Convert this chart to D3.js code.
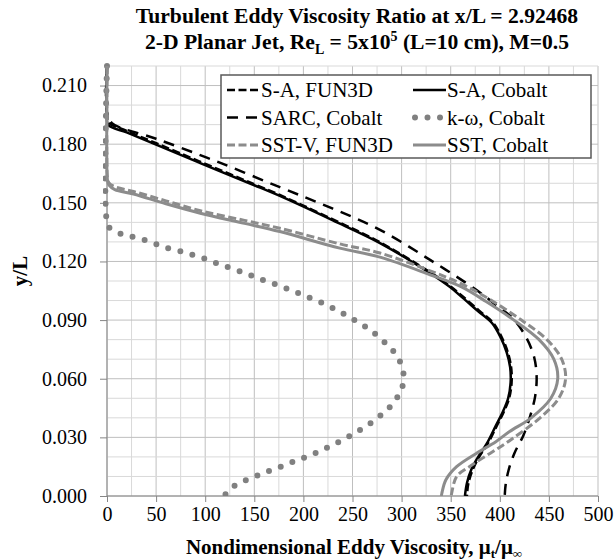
<!DOCTYPE html>
<html lang="en">
<head>
<meta charset="UTF-8">
<title>Turbulent Eddy Viscosity Ratio</title>
<script src="https://d3js.org/d3.v7.min.js"></script>
<style>
    body {
        margin: 0;
        background: #fff;
    }
    svg {
        display: block;
    }
    svg text {
        font-family: "Liberation Serif", "DejaVu Serif", serif;
    }
    .axis text {
        font-size: 20px;
        fill: #000;
    }
    .axis path, .axis line {
        stroke: #868686;
    }
    .title {
        font-weight: bold;
        font-size: 21.6px;
    }
    .axisTitle {
        font-weight: bold;
        font-size: 21px;
    }
    .legend text {
        font-size: 21px;
    }
</style>
</head>
<body>
<script>
// values, [eddy viscosity, y/L]
const saFun3D = [[0,0.22],[0,0.196],[1.5,0.1912],[20,0.1868],[50,0.1805],[95,0.171],[150,0.1595],[176,0.154],
    [230,0.1415],[278,0.1298],[329,0.1145],[349,0.1075],[362,0.1022],[379,0.0948],[393,0.0887],[402,0.0812],
    [408,0.0737],[411.5,0.066],[412,0.058],[409.5,0.050],[404,0.043],[397,0.036],[388,0.027],[379,0.020],
    [372.5,0.0135],[368,0.0065],[366.5,0]];
const saCobalt = [[0,0.22],[0,0.195],[1,0.190],[20,0.186],[50,0.1798],[95,0.1703],[150,0.159],[176,0.1535],
    [230,0.141],[278,0.1294],[329,0.114],[349,0.107],[362,0.1015],[378,0.0945],[392,0.0885],[401,0.081],
    [407,0.0735],[410.5,0.066],[411,0.058],[408.5,0.050],[403,0.043],[396,0.036],[387,0.027],[378,0.020],
    [371,0.0135],[366.5,0.0065],[364.5,0]];
const sarcCobalt = [[0,0.22],[0,0.196],[5,0.1908],[50,0.1828],[110,0.1715],[176,0.158],[230,0.147],[278,0.1362],
    [329,0.1208],[376,0.1055],[398,0.097],[414,0.0905],[427,0.081],[435,0.071],[437.5,0.061],[436,0.051],
    [431,0.041],[424,0.031],[415,0.022],[409,0.0133],[406,0.006],[405,0]];
const kwCobalt = [[0,0.22],[0,0.14],[3,0.137],[15,0.134],[27,0.1325],[40,0.1307],[52,0.1285],[64,0.1265],
    [77.6,0.1248],[89.5,0.123],[102,0.121],[114,0.1186],[126,0.1166],[139,0.1143],[151,0.112],[163,0.1097],
    [175,0.1077],[187,0.1053],[199,0.103],[211,0.1004],[223.5,0.0978],[234.6,0.0949],[246,0.0918],[257,0.0884],
    [268,0.085],[278,0.0807],[288,0.0761],[296,0.071],[301,0.065],[302,0.0585],[297.5,0.0522],[290,0.0466],
    [281,0.0423],[271,0.0382],[260,0.0345],[249,0.0312],[238,0.0282],[226,0.0252],[214,0.0224],[202,0.0199],
    [190,0.0176],[178,0.0152],[166,0.013],[154,0.0106],[142,0.0082],[130,0.0053],[121,0.001],[119,0]];
const sstvFun3D = [[0,0.22],[0,0.166],[0.5,0.1628],[2,0.1602],[8,0.1582],[27,0.1558],[60,0.151],[95,0.146],
    [140,0.141],[176,0.137],[237,0.129],[278,0.1243],[329,0.1152],[360,0.1088],[390,0.1005],[422,0.09],
    [448,0.08],[463,0.07],[467,0.06],[460,0.05],[441,0.04],[411,0.0287],[390,0.0218],[369,0.015],
    [356,0.0099],[351,0.0014],[350.5,0]];
const sstCobalt = [[0,0.22],[0,0.165],[0.5,0.1615],[2,0.159],[8,0.1568],[27,0.1545],[60,0.1495],[95,0.1447],
    [140,0.1395],[176,0.1353],[237,0.1268],[278,0.1222],[329,0.1132],[360,0.1072],[386,0.0995],[413,0.0905],
    [440,0.080],[455,0.070],[459,0.060],[452,0.050],[432,0.040],[410,0.033],[396,0.0278],[376,0.0218],
    [356,0.015],[345,0.0082],[341,0.0014],[340.5,0]];

const seriesNames = ["S-A, FUN3D", "S-A, Cobalt", "SARC, Cobalt", "k-\u03c9, Cobalt", "SST-V, FUN3D", "SST, Cobalt"];
const xTicks = [0, 50, 100, 150, 200, 250, 300, 350, 400, 450, 500];
const yTicks = [0, 0.03, 0.06, 0.09, 0.12, 0.15, 0.18, 0.21];

const width = 616;
const height = 560;
const margins = {top: 66, bottom: 64, left: 107, right: 18};

const svg = d3.select("body").append("svg")
    .attr("width", width)
    .attr("height", height)
    .attr("viewBox", `0 0 ${width} ${height}`);

const xScale = d3.scaleLinear().domain([0, 500]).range([margins.left, width - margins.right]);
const yScale = d3.scaleLinear().domain([0, 0.22]).range([height - margins.bottom, margins.top]);

//gridlines
const grid = svg.append("g").attr("class", "grid");
grid.selectAll(".vgrid")
    .data(d3.range(0, 501, 25))
    .enter().append("line")
    .attr("x1", d => xScale(d)).attr("x2", d => xScale(d))
    .attr("y1", yScale(0)).attr("y2", yScale(0.22))
    .attr("stroke", d => d % 50 === 0 ? "#bfbfbf" : "#d9d9d9")
    .attr("stroke-width", 1);
grid.selectAll(".hgrid")
    .data(d3.range(0, 23).map(i => i / 100))
    .enter().append("line")
    .attr("x1", xScale(0)).attr("x2", xScale(500))
    .attr("y1", d => yScale(d)).attr("y2", d => yScale(d))
    .attr("stroke", (d, i) => i % 3 === 0 ? "#bfbfbf" : "#d9d9d9")
    .attr("stroke-width", 1);

//axes
const xAxis = d3.axisBottom(xScale).tickValues(xTicks).tickSize(6).tickPadding(5).tickFormat(d3.format("d"));
const yAxis = d3.axisLeft(yScale).tickValues(yTicks).tickSize(7).tickPadding(13).tickFormat(d3.format(".3f"));

svg.append("g").attr("class", "axis")
    .attr("transform", `translate(0, ${yScale(0)})`)
    .call(xAxis)
    .attr("font-family", null).attr("font-size", null)
    .call(g => g.select(".domain").attr("d", `M${xScale(0)},0H${xScale(500)}`));

svg.append("g").attr("class", "axis")
    .attr("transform", `translate(${xScale(0)}, 0)`)
    .call(yAxis)
    .attr("font-family", null).attr("font-size", null)
    .call(g => g.select(".domain").attr("d", `M0,${yScale(0.22)}V${yScale(0)}`));

//clip lines to plot area
svg.append("clipPath").attr("id", "plotClip")
    .append("rect")
    .attr("x", xScale(0) - 4).attr("y", yScale(0.22) - 4)
    .attr("width", xScale(500) - xScale(0) + 4).attr("height", yScale(0) - yScale(0.22) + 4);

const lineGen = d3.line()
    .x(d => xScale(d[0]))
    .y(d => yScale(d[1]))
    .curve(d3.curveCatmullRom.alpha(0.5));

const styles = [
    {data: saFun3D, color: "#000", width: 2.5, dash: "8,3.5", cap: "butt"},
    {data: saCobalt, color: "#000", width: 2.5, dash: null, cap: "butt"},
    {data: sarcCobalt, color: "#000", width: 2.5, dash: "11,8", cap: "butt"},
    {data: kwCobalt, color: "#808080", width: 6, dash: "0,12.5", cap: "round"},
    {data: sstvFun3D, color: "#8c8c8c", width: 3, dash: "8,3.5", cap: "butt"},
    {data: sstCobalt, color: "#8c8c8c", width: 3, dash: null, cap: "butt"}
];

const lines = svg.append("g").attr("clip-path", "url(#plotClip)");
lines.selectAll("path")
    .data(styles)
    .enter()
    .append("path")
    .attr("d", d => lineGen(d.data))
    .attr("fill", "none")
    .attr("stroke", d => d.color)
    .attr("stroke-width", d => d.width)
    .attr("stroke-dasharray", d => d.dash)
    .attr("stroke-linecap", d => d.cap);

//legend
const legendBox = {x: 221, y: 75, w: 370, h: 83};
const legend = svg.append("g").attr("class", "legend");
legend.append("rect")
    .attr("x", legendBox.x).attr("y", legendBox.y)
    .attr("width", legendBox.w).attr("height", legendBox.h)
    .attr("fill", "#fff")
    .attr("stroke", "#595959")
    .attr("stroke-width", 1.5);

const items = legend.selectAll(".item")
    .data(styles.map((s, i) => Object.assign({name: seriesNames[i]}, s)))
    .enter().append("g")
    .attr("transform", (d, i) => `translate(${i % 2 === 0 ? 227 : 413}, ${90 + Math.floor(i / 2) * 27.5})`);

items.append("path")
    .attr("d", d => d.cap === "round" ? "M2,0H28" : "M0,0H33")
    .attr("fill", "none")
    .attr("stroke", d => d.color)
    .attr("stroke-width", d => d.width)
    .attr("stroke-dasharray", d => d.dash)
    .attr("stroke-linecap", d => d.cap);

items.append("text")
    .attr("x", 34)
    .attr("dy", "0.35em")
    .text(d => d.name);

//titles
const title = svg.append("text").attr("class", "title").attr("text-anchor", "middle");
title.append("tspan").attr("x", 357).attr("y", 23)
    .text("Turbulent Eddy Viscosity Ratio at x/L = 2.92468");
const t2 = title.append("tspan").attr("x", 357).attr("y", 49);
t2.append("tspan").text("2-D Planar Jet, Re");
t2.append("tspan").attr("font-size", "14px").attr("dy", 5).text("L");
t2.append("tspan").attr("dy", -5).text(" = 5x10");
t2.append("tspan").attr("font-size", "14px").attr("dy", -8).text("5");
t2.append("tspan").attr("dy", 8).text(" (L=10 cm), M=0.5");

const xTitle = svg.append("text").attr("class", "axisTitle")
    .attr("text-anchor", "middle")
    .attr("x", 354).attr("y", 554);
xTitle.append("tspan").text("Nondimensional  Eddy Viscosity, \u03bc");
xTitle.append("tspan").attr("font-size", "13px").attr("dy", 4).text("t");
xTitle.append("tspan").attr("dy", -4).text("/\u03bc");
xTitle.append("tspan").attr("font-size", "13px").attr("dy", 4).text("\u221e");

svg.append("text").attr("class", "axisTitle")
    .attr("text-anchor", "middle")
    .attr("transform", `translate(27, ${yScale(0.11) - 10}) rotate(-90)`)
    .text("y/L");
</script>
</body>
</html>
